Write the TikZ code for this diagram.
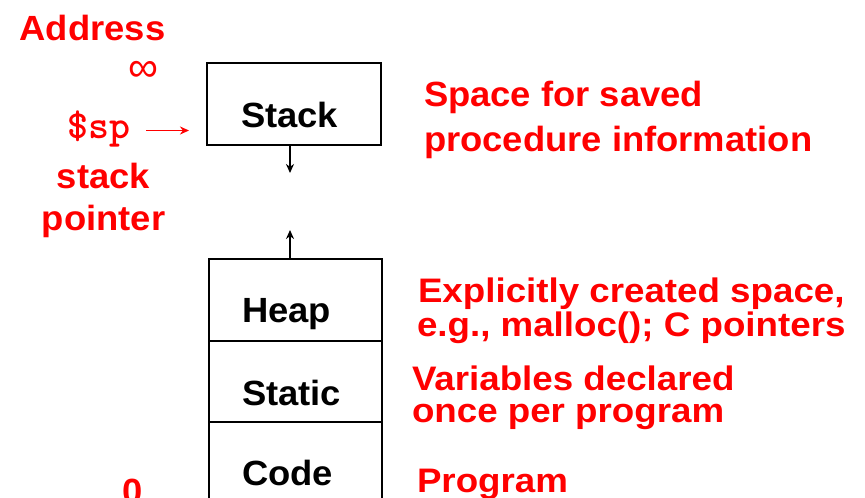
\documentclass[tikz,border=0pt]{standalone}
\usepackage{fontspec}
\setmainfont{Liberation Sans}
\newfontfamily\widefont[FakeStretch=1.04]{Liberation Sans}
\newfontfamily\widerfont[FakeStretch=1.08]{Liberation Sans}
\usetikzlibrary{arrows.meta}
\definecolor{lbl}{RGB}{255,0,0}
\tikzset{
  big/.style={font=\widefont\fontsize{35}{40}\selectfont\bfseries, inner sep=0pt, outer sep=0pt},
  lowbig/.style={font=\widerfont\fontsize{34}{40}\selectfont\bfseries, inner sep=0pt, outer sep=0pt},
  redtxt/.style={big, text=lbl, anchor=base west},
  redlow/.style={lowbig, text=lbl, anchor=base west},
  redc/.style={big, text=lbl, anchor=base},
  boxtxt/.style={big, text=black, anchor=base west},
  seg/.style={draw=black, line width=2.6pt},
  arr/.style={draw=black, line width=1.8pt, -{Stealth[length=9pt,width=8pt]}},
  redarr/.style={draw=lbl, line width=1.8pt, -{Stealth[length=9pt,width=8pt]}}
}
\begin{document}
\begin{tikzpicture}[x=1pt,y=-1pt]
\useasboundingbox (0,0) rectangle (865,498);
% boxes
\draw[seg] (207,63) rectangle (381,145);
\coordinate (stackbot) at (290,145);
\coordinate (stackend) at (290,173);
\draw[seg] (209,259) rectangle (382,341);
\draw[seg] (209,341) rectangle (382,422);
\draw[seg] (209,505) -- (209,422) -- (382,422) -- (382,505);
\coordinate (heaptop) at (290,259);
\coordinate (heapend) at (290,230);
\draw[arr] (stackbot) -- (stackend);
\draw[arr] (heaptop) -- (heapend);
% box labels
\node[boxtxt] (stack) at (241,127.5) {Stack};
\node[boxtxt] (heap) at (242,322) {Heap};
\node[boxtxt] (static) at (242,405) {Static};
\node[boxtxt] (code) at (242,485) {Code};
% left labels
\node[redc] (address) at (92.5,40) {Address};
\node[text=lbl, inner sep=0pt, font=\fontsize{42}{42}\selectfont] (inf) at (143,71) {∞};
\node[text=lbl, inner sep=0pt, anchor=base east, font=\ttfamily\fontsize{40}{40}\selectfont\bfseries] (sp) at (131,138) {\$sp};
\coordinate (sptip) at (189,130.5);
\coordinate (spstart) at (146,130.5);
\draw[redarr] (spstart) -- (sptip);
\node[redc] (stk) at (103.5,188) {stack};
\node[redc] (ptr) at (103.5,230) {pointer};
\node[redc] (zero) at (133,503) {0};
% right labels
\node[redtxt] (sp1) at (424,106) {Space for saved};
\node[redtxt] (sp2) at (424,151) {procedure information};
\node[redlow] (ex1) at (418,302) {Explicitly created space,};
\node[redlow] (ex2) at (417,336) {e.g., malloc(); C pointers};
\node[redlow] (va1) at (412,390) {Variables declared};
\node[redlow] (va2) at (412,422) {once per program};
\node[redlow] (pg) at (417,492) {Program};
\end{tikzpicture}
\end{document}
